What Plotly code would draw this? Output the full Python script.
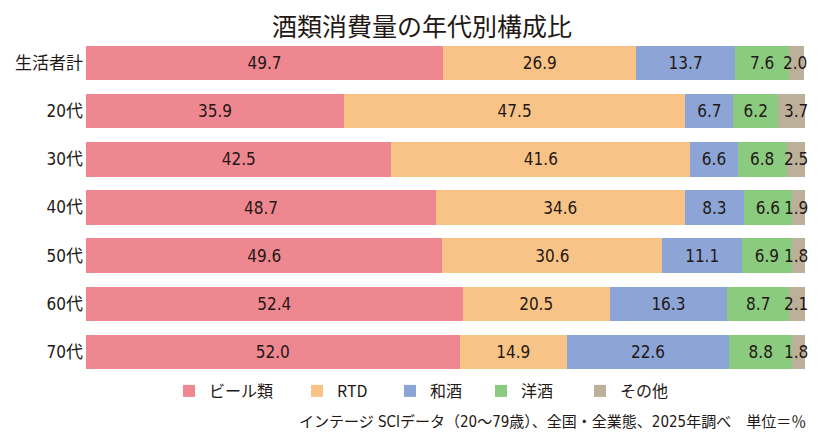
import plotly.graph_objects as go

# 酒類消費量の年代別構成比 (%)
groups = ["生活者計", "20代", "30代", "40代", "50代", "60代", "70代"]
drinks = ["ビール類", "RTD", "和酒", "洋酒", "その他"]
beer = [49.7, 35.9, 42.5, 48.7, 49.6, 52.4, 52.0]
rtd = [26.9, 47.5, 41.6, 34.6, 30.6, 20.5, 14.9]
washu = [13.7, 6.7, 6.6, 8.3, 11.1, 16.3, 22.6]
yoshu = [7.6, 6.2, 6.8, 6.6, 6.9, 8.7, 8.8]
other = [2.0, 3.7, 2.5, 1.9, 1.8, 2.1, 1.8]

series = [beer, rtd, washu, yoshu, other]
colors = ["#EF8790", "#F8C387", "#8DA5D6", "#8ACB80", "#BDB09B"]

W, H = 820, 441
# the page body adds an 8px margin, so lay out in screen pixels minus 8
OFF = 8
PL, PR, PT, PB = 86, 806, 39, 376          # plot area on screen
L, R, T, B = PL - OFF, W - (PR - OFF), PT - OFF, H - (PB - OFF)
TXT = "#231815"
NARROW = "DejaVu Sans Condensed, Noto Sans CJK JP, sans-serif"
GOTHIC = "Noto Sans CJK JP, sans-serif"

# legend text starts (screen px) in the reference
legend_px = [209, 337, 430, 521, 620]


def px_x(p):
    return (p - PL) / (PR - PL)


def px_y(p):
    return (PB - p) / (PB - PT)


fig = go.Figure()
for i, (name, vals, col) in enumerate(zip(drinks, series, colors)):
    leg = "legend" if i == 0 else "legend{}".format(i + 1)
    last = i == len(series) - 1
    fig.add_trace(go.Bar(
        y=groups, x=vals, name=name, orientation="h",
        marker=dict(color=col, line=dict(width=0)),
        text=None if last else ["{:.1f}".format(v) for v in vals],
        textposition="none" if last else "inside",
        insidetextanchor="middle", textangle=0,
        textfont=dict(family=NARROW, size=17, color=TXT),
        cliponaxis=False, legend=leg, hoverinfo="skip",
    ))

# the thin "その他" segment: its label hangs at the right end of each row
totals = [sum(v) for v in zip(*series)]
annos = []
for g, tot, v in zip(groups, totals, other):
    annos.append(dict(
        x=tot, y=g, xref="x", yref="y", text="{:.1f}".format(v),
        xanchor="right", yanchor="middle", xshift=5, showarrow=False,
        font=dict(family=NARROW, size=17, color=TXT),
    ))

annos.append(dict(
    text="インテージ SCIデータ（20～79歳）、全国・全業態、2025年調べ　単位＝％",
    xref="paper", yref="paper", x=px_x(808), y=px_y(422),
    xanchor="right", yanchor="middle", showarrow=False,
    font=dict(family=NARROW, size=15, color=TXT),
))

layout_legends = {}
for i, p in enumerate(legend_px):
    key = "legend" if i == 0 else "legend{}".format(i + 1)
    layout_legends[key] = dict(
        x=px_x(p - 40), y=px_y(391), xanchor="left", yanchor="middle",
        orientation="h", bgcolor="rgba(0,0,0,0)", borderwidth=0,
        font=dict(family=GOTHIC, size=16, color=TXT),
    )

fig.update_layout(
    width=W, height=H,
    margin=dict(l=L, r=R, t=T, b=B, autoexpand=False),
    showlegend=True,
    barmode="stack", bargap=0.284,
    paper_bgcolor="white", plot_bgcolor="white",
    title=dict(text="酒類消費量の年代別構成比", x=(422 - OFF) / W,
               y=1 - (27 - OFF) / H, xanchor="center", yanchor="middle",
               font=dict(family=GOTHIC, size=25, color=TXT)),
    uniformtext=dict(mode="show", minsize=17),
    xaxis=dict(range=[0, 100.2], visible=False, fixedrange=True),
    yaxis=dict(autorange="reversed", showgrid=False, zeroline=False,
               showline=False, ticks="", ticklabelstandoff=2,
               tickfont=dict(family=NARROW, size=17, color=TXT)),
    annotations=annos,
    **layout_legends,
)

fig.write_html("out.html")
